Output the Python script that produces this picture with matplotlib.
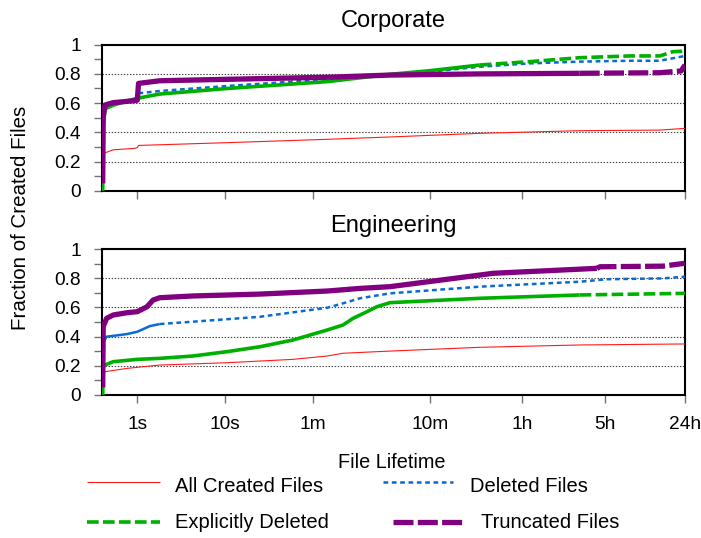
import numpy as np
import matplotlib
matplotlib.use("Agg")
import matplotlib.pyplot as plt
from matplotlib.lines import Line2D
from matplotlib.ticker import FixedLocator, NullLocator, MultipleLocator

plt.rcParams["font.family"] = ["Liberation Sans", "DejaVu Sans"]
plt.rcParams["lines.scale_dashes"] = False

# ---------------------------------------------------------------- data
# lifetimes in seconds, values are cumulative fractions of created files
tick_secs = [1, 10, 60, 600, 3600, 18000, 86400]
tick_labels = ["1s", "10s", "1m", "10m", "1h", "5h", "24h"]
y_ticks = [0, 0.2, 0.4, 0.6, 0.8, 1.0]
y_tick_labels = ["0", "0.2", "0.4", "0.6", "0.8", "1"]

series_names = ["All Created Files", "Deleted Files",
                "Explicitly Deleted", "Truncated Files"]
panel_titles = ["Corporate", "Engineering"]

# Corporate
corp_all_t = [0.02, 0.03, 0.07, 0.25, 0.9, 1.0, 1.05, 10.5, 80, 274, 1585, 11100, 52800, 86400]
corp_all = [0.0, 0.22, 0.26, 0.28, 0.29, 0.295, 0.31, 0.329, 0.352, 0.368, 0.393, 0.411, 0.415, 0.427]

corp_del_t = [0.02, 0.03, 0.066, 0.25, 0.74, 1.0, 1.05, 2.1, 10.5, 80, 274, 598, 1585, 4200,
              11100, 29400, 52800, 68100, 86400]
corp_del = [0.0, 0.45, 0.57, 0.595, 0.62, 0.63, 0.667, 0.683, 0.717, 0.763, 0.797, 0.815, 0.849,
            0.872, 0.884, 0.89, 0.89, 0.907, 0.923]

corp_exp_t = [0.02, 0.03, 0.066, 0.25, 0.74, 1.0, 2.1, 10.5, 80, 274, 598, 1585, 4200, 11100,
              29400, 52800, 68100, 86400]
corp_exp = [0.0, 0.45, 0.56, 0.586, 0.62, 0.633, 0.662, 0.70, 0.747, 0.797, 0.822, 0.861, 0.884,
            0.911, 0.923, 0.923, 0.952, 0.956]

corp_trunc_t = [0.02, 0.03, 0.066, 0.25, 0.9, 1.0, 1.05, 2.1, 10.5, 80, 274, 1585, 11100, 52800,
                80000, 86400]
corp_trunc = [0.05, 0.50, 0.587, 0.603, 0.617, 0.62, 0.735, 0.753, 0.763, 0.777, 0.792, 0.80,
              0.804, 0.808, 0.82, 0.861]

# Engineering
eng_all_t = [0.02, 0.03, 0.066, 0.64, 2.1, 10.5, 40.5, 80, 109, 274, 1585, 11100, 86400]
eng_all = [0.0, 0.14, 0.158, 0.181, 0.204, 0.22, 0.243, 0.266, 0.285, 0.30, 0.326, 0.342, 0.349]

eng_del_t = [0.02, 0.03, 0.1, 0.64, 1.0, 1.56, 2.1, 4.9, 20.9, 80, 109, 152, 274, 1585, 11100,
             18800, 56000, 86400]
eng_del = [0.0, 0.36, 0.399, 0.417, 0.433, 0.472, 0.486, 0.502, 0.536, 0.598, 0.628, 0.663,
           0.697, 0.743, 0.777, 0.794, 0.80, 0.812]

eng_exp_t = [0.02, 0.03, 0.066, 0.25, 1.0, 2.1, 4.9, 10.5, 20.9, 40.5, 80, 109, 133, 175, 212,
             274, 1585, 11100, 86400]
eng_exp = [0.0, 0.19, 0.204, 0.227, 0.243, 0.25, 0.266, 0.296, 0.33, 0.376, 0.445, 0.479, 0.525,
           0.571, 0.605, 0.633, 0.663, 0.686, 0.697]

eng_trunc_t = [0.02, 0.03, 0.1, 0.25, 0.64, 1.0, 1.42, 1.72, 2.1, 4.9, 20.9, 80, 152, 274, 1585,
               2050, 15500, 16500, 56000, 86400]
eng_trunc = [0.05, 0.468, 0.525, 0.548, 0.564, 0.571, 0.605, 0.651, 0.667, 0.679, 0.692, 0.713,
             0.731, 0.743, 0.823, 0.835, 0.869, 0.88, 0.884, 0.904]

panels = [
    [(corp_all_t, corp_all), (corp_del_t, corp_del), (corp_exp_t, corp_exp), (corp_trunc_t, corp_trunc)],
    [(eng_all_t, eng_all), (eng_del_t, eng_del), (eng_exp_t, eng_exp), (eng_trunc_t, eng_trunc)],
]

# ---------------------------------------------------------------- styles
styles = [
    dict(color="#ff1a1a", lw=0.8, dashes=None),
    dict(color="#0a6ad4", lw=1.8, dashes=(3.4, 2.6)),
    dict(color="#00b000", lw=2.6, dashes=(8.4, 3.1)),
    dict(color="#800080", lw=3.8, dashes=(14.4, 3.1)),
]
# dense early portions render solid; dashes show once samples thin out
solid_until = [
    [None, 1.05, 1585, 11100],
    [None, 2.1, 11100, 15500],
]


def fwd(t):
    return np.log10(np.asarray(t, dtype=float) + 1.0)


def inv(x):
    return 10.0 ** np.asarray(x, dtype=float) - 1.0


def draw_series(ax, t, y, st, split):
    t = np.asarray(t, dtype=float)
    y = np.asarray(y, dtype=float)
    kw = dict(color=st["color"], lw=st["lw"], solid_capstyle="butt",
              dash_capstyle="butt", solid_joinstyle="round", zorder=3)
    if split is None or st["dashes"] is None:
        ax.plot(t, y, **kw)
        return
    k = int(np.searchsorted(t, split))
    ax.plot(t[:k + 1], y[:k + 1], **kw)
    ax.plot(t[k:], y[k:], dashes=st["dashes"], **kw)


W, H = 701, 538
fig = plt.figure(figsize=(W / 100, H / 100), dpi=100)

ax_left = 101.7 / W
ax_w = (685 - 101.7) / W
boxes = [(190.7, 146.0), (394.7, 145.4)]  # bottom edge px, height px

for i, (bottom_px, h_px) in enumerate(boxes):
    ax = fig.add_axes([ax_left, 1 - bottom_px / H, ax_w, h_px / H])
    ax.set_xscale("function", functions=(fwd, inv))
    ax.set_xlim(0, 86400)
    ax.set_ylim(0, 1)

    for (t, y), st, sp in zip(panels[i], styles, solid_until[i]):
        draw_series(ax, t, y, st, sp)

    ax.xaxis.set_major_locator(FixedLocator(tick_secs))
    ax.xaxis.set_minor_locator(NullLocator())
    if i == 1:
        ax.set_xticklabels(tick_labels)
    else:
        ax.set_xticklabels([])
    ax.set_yticks(y_ticks)
    ax.set_yticklabels(y_tick_labels)
    ax.yaxis.set_minor_locator(MultipleLocator(0.1))

    ax.tick_params(axis="both", which="both", direction="out", length=6,
                   width=1.0, color="0.45", labelsize=13.8)
    ax.tick_params(axis="y", which="major", pad=9)
    ax.tick_params(axis="x", which="major", pad=9.5)
    ax.tick_params(top=False, right=False)

    ax.grid(axis="y", which="major", color="0.25", lw=0.8, linestyle=(0, (1, 1.2)))
    ax.set_axisbelow(True)
    for s in ax.spines.values():
        s.set_linewidth(1.5)
        s.set_color("black")

    ax.set_title(panel_titles[i], fontsize=17, pad=12.5)

fig.text(21 / W, 1 - 218 / H, "Fraction of Created Files", rotation=90,
         ha="center", va="center", fontsize=14.8)
fig.text(392 / W, 1 - 468.5 / H, "File Lifetime", ha="center", va="baseline", fontsize=14.3)

# legend entries: (line start px, line end px, line y px, text x px, text baseline px)
legend_layout = [
    (87, 160, 482.3, 175, 492.5),
    (383, 453, 482.3, 470, 492.5),
    (87, 160, 521.7, 175, 528.5),
    (393, 463, 521.7, 481, 528.5),
]
for name, st, (x0, x1, ly, tx, tb) in zip(series_names, styles, legend_layout):
    kw = dict(color=st["color"], lw=st["lw"], solid_capstyle="butt", dash_capstyle="butt")
    if st["dashes"] is not None:
        kw["dashes"] = st["dashes"]
    fig.add_artist(Line2D([x0 / W, x1 / W], [1 - ly / H, 1 - ly / H],
                          transform=fig.transFigure, **kw))
    fig.text(tx / W, 1 - tb / H, name, ha="left", va="baseline", fontsize=14.5)

fig.savefig("out.png", dpi=100)
